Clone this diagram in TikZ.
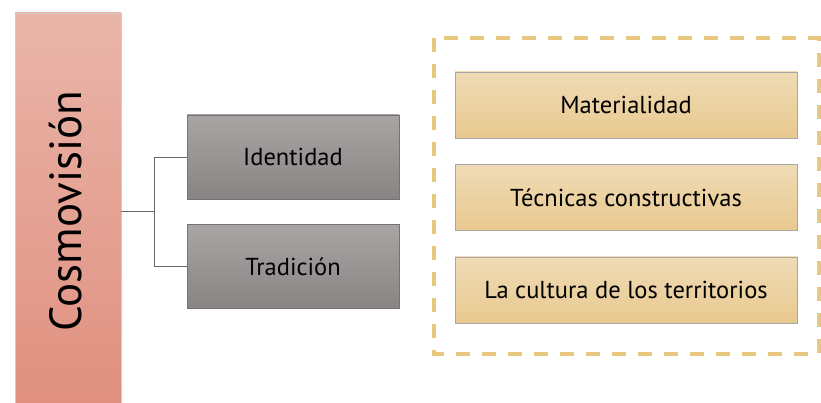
\documentclass[tikz,border=0pt]{standalone}
\usepackage{fontspec}
\setmainfont{PT Sans}
\usepackage{xcolor}
\usetikzlibrary{positioning}
\usetikzlibrary{calc}

\definecolor{rosetop}{HTML}{E9B5A9}
\definecolor{rosebot}{HTML}{E0907F}
\definecolor{graytop}{HTML}{A9A5A5}
\definecolor{graybot}{HTML}{898484}
\definecolor{sandtop}{HTML}{F0DBB6}
\definecolor{sandbot}{HTML}{E8C98F}
\definecolor{sanddash}{HTML}{E8C77E}

\begin{document}
\begin{tikzpicture}[x=1pt, y=1pt, node distance=25pt]
	\tikzstyle{root}=[draw=black!20, rectangle, top color=rosetop, bottom color=rosebot, minimum width=106pt, minimum height=392pt, inner sep=0pt]
	\tikzstyle{branch}=[draw=black!55, rectangle, top color=graytop, bottom color=graybot, minimum width=212pt, minimum height=84pt, inner sep=0pt, font=\fontsize{24.5}{28}\selectfont]
	\tikzstyle{item}=[draw=black!35, rectangle, top color=sandtop, bottom color=sandbot, minimum width=342pt, minimum height=66pt, inner sep=0pt, font=\fontsize{24.5}{28}\selectfont]
	\tikzstyle{link}=[draw=black!60, line width=0.8pt]
	\useasboundingbox (0,0) rectangle (821,403);
	
	\node[root] (cosmo) at (68,194) {};
	\node[rotate=90, font=\fontsize{45}{52}\selectfont] (cosmolabel) at (66,192) {Cosmovisión};
	
	\node[branch] (ident) at (293,246) {Identidad};
	\node[branch, below=of ident] (trad) {Tradición};
	
	\node[item] (mater) at (626,298) {Materialidad};
	\node[item, below=26pt of mater] (tecn) {Técnicas constructivas};
	\node[item, below=26pt of tecn] (cult) {La cultura de los territorios};
	
	\draw[sanddash, line width=3.5pt, dash pattern=on 14pt off 12pt] (434,365) rectangle (819,49);
	
	\coordinate (fork) at (154,192);
	\path[link] (cosmo.east |- fork) -- (fork);
	\path[link] (fork) |- (ident.west);
	\path[link] (fork) |- (trad.west);
\end{tikzpicture}
\end{document}
